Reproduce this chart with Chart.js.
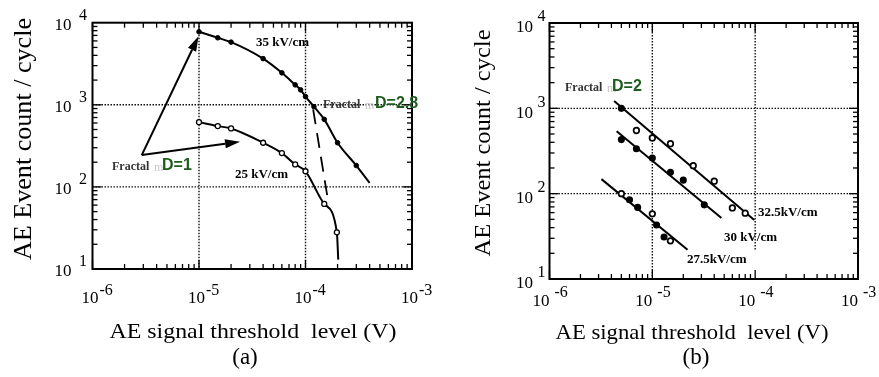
<!DOCTYPE html>
<html>
<head>
<meta charset="utf-8">
<script src="https://cdn.jsdelivr.net/npm/chart.js@4.4.1/dist/chart.umd.min.js"></script>
<style>
  html, body { margin: 0; padding: 0; background: #fff; }
  #wrap { position: relative; width: 879px; height: 377px; overflow: hidden; }
  canvas { position: absolute; top: 0; }
  #chartA { left: 0; }
  #chartB { left: 440px; }
</style>
</head>
<body>
<div id="wrap">
  <canvas id="chartA" width="440" height="377"></canvas>
  <canvas id="chartB" width="439" height="377"></canvas>
</div>
<script>
// ---- values ----
// decade exponents used for tick labels
const xExps = [-6, -5, -4, -3];
const yExps = [1, 2, 3, 4];

// (a) 35 kV/cm, filled dots + curve end
const a35X = [1.0e-5, 1.5e-5, 2.0e-5, 4.0e-5, 6.0e-5, 8.0e-5, 9.0e-5, 1.0e-4, 1.2e-4, 1.5e-4, 2.0e-4, 3.0e-4];
const a35Y = [7750, 6550, 5800, 3650, 2450, 1750, 1520, 1260, 950, 665, 345, 182];
const a35EndX = [4.0e-4];
const a35EndY = [112];
// (a) 25 kV/cm, open circles + curve end
const a25X = [1.0e-5, 1.5e-5, 2.0e-5, 4.0e-5, 6.0e-5, 8.0e-5, 1.0e-4, 1.5e-4, 1.97e-4];
const a25Y = [615, 550, 515, 345, 258, 188, 155, 62, 28];
const a25EndX = [2.03e-4];
const a25EndY = [13];
// (a) dashed line
const aDashX = [1.18e-4, 1.64e-4];
const aDashY = [880, 64];
// (a) arrows from the "Fractal D=1" label
const arrowFromX = 2.9e-6, arrowFromY = 244;
const arrowToX = [9.9e-6, 2.43e-5];
const arrowToY = [6850, 354];

// (b) 32.5 kV/cm
const b325OpenX = [7e-6, 1.0e-5, 1.5e-5, 2.5e-5, 4.0e-5, 6.0e-5, 8.0e-5];
const b325OpenY = [550, 450, 385, 213, 140, 68, 59];
const b325FillX = [5e-6];
const b325FillY = [1000];
const b325LineX = [4.25e-6, 9.8e-5];
const b325LineY = [1220, 49];
// (b) 30 kV/cm
const b30X = [5e-6, 7e-6, 1.0e-5, 1.5e-5, 2.0e-5, 3.2e-5];
const b30Y = [430, 336, 261, 178, 144, 74];
const b30LineX = [4.5e-6, 4.7e-5];
const b30LineY = [538, 52];
// (b) 27.5 kV/cm
const b275FillX = [6e-6, 7.2e-6, 1.1e-5, 1.3e-5];
const b275FillY = [85, 69, 43, 31];
const b275OpenX = [5e-6, 1.0e-5, 1.5e-5];
const b275OpenY = [100, 58, 28];
const b275LineX = [3.2e-6, 2.2e-5];
const b275LineY = [148, 22];

// ---- styling ----
const SERIF = '"Liberation Serif", "Times New Roman", serif';
const SANS = '"Liberation Sans", Arial, sans-serif';
const GREEN = '#1e5b1e';

const pts = (xs, ys) => xs.map((x, i) => ({ x, y: ys[i] }));

const marker = (xs, ys, filled, r, bw) => ({
  data: pts(xs, ys),
  showLine: false,
  pointRadius: r,
  pointBorderWidth: bw,
  pointBorderColor: '#000',
  pointBackgroundColor: filled ? '#000' : '#fff',
});

const curve = (xs, ys, extra) => Object.assign({
  data: pts(xs, ys),
  showLine: true,
  pointRadius: 0,
  borderColor: '#000',
  borderWidth: 2,
  tension: 0,
}, extra);

function text(ctx, s, x, y, font, color, align, width, rotate) {
  ctx.save();
  ctx.font = font;
  ctx.fillStyle = color || '#000';
  ctx.textBaseline = 'middle';
  ctx.textAlign = align || 'left';
  ctx.translate(x, y);
  if (rotate) ctx.rotate(rotate);
  if (width) ctx.scale(width / ctx.measureText(s).width, 1);
  ctx.fillText(s, 0, 0);
  ctx.restore();
}

function seg(ctx, x0, y0, x1, y1) {
  ctx.beginPath(); ctx.moveTo(x0, y0); ctx.lineTo(x1, y1); ctx.stroke();
}

function arrow(ctx, x0, y0, x1, y1) {
  const ang = Math.atan2(y1 - y0, x1 - x0), L = 15, W = 4.5;
  const bx = x1 - L * Math.cos(ang), by = y1 - L * Math.sin(ang);
  seg(ctx, x0, y0, bx, by);
  ctx.beginPath();
  ctx.moveTo(x1, y1);
  ctx.lineTo(bx + W * Math.sin(ang), by - W * Math.cos(ang));
  ctx.lineTo(bx - W * Math.sin(ang), by + W * Math.cos(ang));
  ctx.closePath();
  ctx.fill();
}

// frame, inward ticks, dotted grid, superscript tick labels, titles, notes
function decor(p) {
  return {
    id: 'decor',
    beforeDatasetsDraw(chart) {
      const { ctx, chartArea: a, scales: { x, y } } = chart;
      ctx.save();
      ctx.strokeStyle = '#111';
      ctx.lineWidth = 1.4;
      ctx.setLineDash([1.5, 1.5]);
      p.xGrid.forEach(g => {
        const px = x.getPixelForValue(10 ** g.exp);
        const end = g.until ? y.getPixelForValue(g.until) : a.bottom;
        seg(ctx, px, a.top, px, end);
      });
      p.yGrid.forEach(e => {
        const py = y.getPixelForValue(10 ** e);
        seg(ctx, a.left, py, a.right, py);
      });
      ctx.restore();

      if (p.arrows) {
        ctx.save();
        ctx.strokeStyle = '#000';
        ctx.fillStyle = '#000';
        ctx.lineWidth = 2;
        const x0 = x.getPixelForValue(arrowFromX), y0 = y.getPixelForValue(arrowFromY);
        arrowToX.forEach((tx, i) => arrow(ctx, x0, y0, x.getPixelForValue(tx), y.getPixelForValue(arrowToY[i])));
        ctx.restore();
      }
    },
    afterDatasetsDraw(chart) {
      const { ctx, chartArea: a, scales: { x, y } } = chart;
      ctx.save();
      ctx.strokeStyle = '#000';
      ctx.lineWidth = 1.3;
      // minor / major ticks
      for (let i = 0; i < xExps.length - 1; i++) {
        for (let m = 1; m <= 9; m++) {
          const px = x.getPixelForValue(m * 10 ** xExps[i]);
          const len = m === 1 ? 9 : 5;
          seg(ctx, px, a.bottom, px, a.bottom - len);
          seg(ctx, px, a.top, px, a.top + len);
        }
      }
      for (let i = 0; i < yExps.length - 1; i++) {
        for (let m = 1; m <= 9; m++) {
          const py = y.getPixelForValue(m * 10 ** yExps[i]);
          const len = m === 1 ? 9 : 5;
          seg(ctx, a.left, py, a.left + len, py);
          seg(ctx, a.right, py, a.right - len, py);
        }
      }
      ctx.lineWidth = 2;
      ctx.strokeRect(a.left, a.top, a.right - a.left, a.bottom - a.top);
      ctx.restore();

      // tick labels 10^n
      const f10 = '17px ' + SERIF, fExp = '16px ' + SERIF;
      xExps.forEach(e => {
        const px = x.getPixelForValue(10 ** e);
        const xl = p.xLab;
        text(ctx, '10', px + xl.dx, xl.y10, f10, '#000', xl.align);
        text(ctx, String(e), px + xl.expDx, xl.yExp, fExp, '#000', 'left');
      });
      yExps.forEach(e => {
        const py = y.getPixelForValue(10 ** e);
        const yl = p.yLab;
        text(ctx, '10', a.left + yl.dx10, py + yl.dy10, f10, '#000', 'right');
        text(ctx, String(e), a.left + yl.dxExp, py + yl.dyExp, fExp, '#000', 'left');
      });

      // axis titles and panel letter
      const t = p.titles;
      text(ctx, 'AE signal threshold  level (V)', t.xCx, t.xCy, '22px ' + SERIF, '#000', 'center', t.xW);
      text(ctx, 'AE Event count / cycle', t.yCx, t.yCy, t.yFont + 'px ' + SERIF, '#000', 'center', t.yW, -Math.PI / 2);
      text(ctx, t.letter, t.lCx, t.lCy, '23px ' + SERIF, '#000', 'center');

      // notes
      p.notes.forEach(n => text(ctx, n.s, n.x, n.y, n.font, n.color || '#000', 'left'));
    },
  };
}

const fractal = (x, y, d, dx) => [
  { s: 'Fractal', x, y, font: 'bold 12px ' + SERIF, color: '#333' },
  { s: 'm', x: x + 42, y: y + 1, font: '12px ' + SERIF, color: '#c8c8c8' },
  { s: d, x: x + dx, y: y - 1, font: 'bold 16px ' + SANS, color: GREEN },
];
const fieldFont = 'bold 13px ' + SERIF;

function makeChart(id, datasets, pad, plugin) {
  return new Chart(document.getElementById(id), {
    type: 'scatter',
    data: { datasets },
    options: {
      responsive: false,
      animation: false,
      events: [],
      layout: { padding: pad },
      plugins: { legend: { display: false }, tooltip: { enabled: false } },
      scales: {
        x: { type: 'logarithmic', min: 10 ** xExps[0], max: 10 ** xExps[xExps.length - 1], display: false },
        y: { type: 'logarithmic', min: 10 ** yExps[0], max: 10 ** yExps[yExps.length - 1], display: false },
      },
    },
    plugins: [plugin],
  });
}

// ---- (a) ----
makeChart('chartA', [
  marker(a35X, a35Y, true, 2.3, 1),
  marker(a25X, a25Y, false, 2.5, 1.3),
  curve(a35X.concat(a35EndX), a35Y.concat(a35EndY), { cubicInterpolationMode: 'monotone' }),
  curve(a25X.concat(a25EndX), a25Y.concat(a25EndY), { cubicInterpolationMode: 'monotone' }),
  curve(aDashX, aDashY, { borderDash: [15, 9], borderWidth: 1.8 }),
], { left: 92.5, right: 28, top: 22.7, bottom: 108 }, decor({
  xGrid: [{ exp: -5 }, { exp: -4 }],
  yGrid: [2, 3],
  arrows: true,
  xLab: { dx: -2.5, align: 'center', y10: 299, expDx: 7, yExp: 291 },
  yLab: { dx10: -21, dy10: 3, dxExp: -13.5, dyExp: -7 },
  titles: { xCx: 253, xCy: 332, xW: 287, yCx: 24, yCy: 139, yW: 242, yFont: 25, letter: '(a)', lCx: 245, lCy: 358 },
  notes: [
    { s: '35 kV/cm', x: 256, y: 43, font: fieldFont },
    { s: '25 kV/cm', x: 235, y: 175, font: fieldFont },
    ...fractal(323, 105, 'D=2.8', 52),
    ...fractal(112, 167, 'D=1', 50),
  ],
}));

// ---- (b) ----
makeChart('chartB', [
  marker(b325FillX, b325FillY, true, 2.8, 1.5),
  marker(b325OpenX, b325OpenY, false, 2.8, 1.7),
  marker(b30X, b30Y, true, 2.8, 1.5),
  marker(b275FillX, b275FillY, true, 2.8, 1.5),
  marker(b275OpenX, b275OpenY, false, 2.8, 1.7),
  curve(b325LineX, b325LineY),
  curve(b30LineX, b30LineY),
  curve(b275LineX, b275LineY),
], { left: 109.5, right: 21, top: 23, bottom: 98 }, decor({
  xGrid: [{ exp: -5 }, { exp: -4, until: 22 }],
  yGrid: [2, 3],
  arrows: false,
  xLab: { dx: 0, align: 'right', y10: 302, expDx: 5, yExp: 293 },
  yLab: { dx10: -16.5, dy10: 5, dxExp: -12, dyExp: -6 },
  titles: { xCx: 252, xCy: 333, xW: 273, yCx: 44, yCy: 143, yW: 227, yFont: 24, letter: '(b)', lCx: 256, lCy: 358 },
  notes: [
    { s: '32.5kV/cm', x: 318, y: 212.5, font: fieldFont },
    { s: '30 kV/cm', x: 284, y: 237.5, font: fieldFont },
    { s: '27.5kV/cm', x: 247, y: 260, font: fieldFont },
    ...fractal(125, 88, 'D=2', 47),
  ],
}));
</script>
</body>
</html>
